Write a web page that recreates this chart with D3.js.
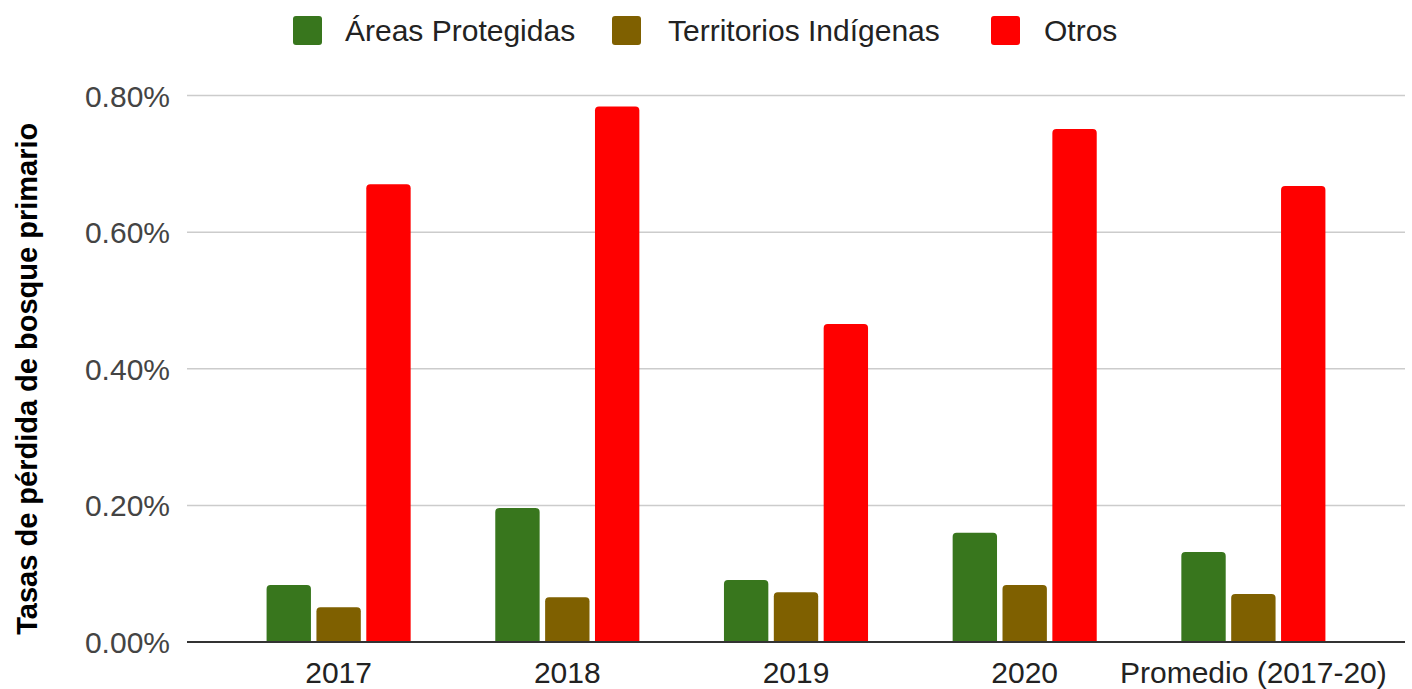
<!DOCTYPE html>
<html>
<head>
<meta charset="utf-8">
<script src="https://cdn.jsdelivr.net/npm/d3@7"></script>
<style>
  body { margin: 0; background: #fff; }
  text { font-family: "Liberation Sans", Arial, sans-serif; }
</style>
</head>
<body>
<div id="chart"></div>
<script>
// data (rates as fractions)
const categories = ["2017", "2018", "2019", "2020", "Promedio (2017-20)"];
const seriesNames = ["Áreas Protegidas", "Territorios Indígenas", "Otros"];
const areasProtegidas = [0.000834, 0.00196, 0.000908, 0.00160, 0.001319];
const territoriosIndigenas = [0.000508, 0.000654, 0.000727, 0.000834, 0.000701];
const otros = [0.00670, 0.00784, 0.004655, 0.00751, 0.006677];
const yTicks = [0, 0.002, 0.004, 0.006, 0.008];
const colors = ["#38761d", "#7f6000", "#ff0000"];

const width = 1412, height = 689;
const plot = {left: 187, right: 1405, top: 95.5, bottom: 642};

const svg = d3.select("#chart").append("svg")
    .attr("width", width)
    .attr("height", height);

const seriesValues = [areasProtegidas, territoriosIndigenas, otros];
const rows = categories.map((c, i) => ({
    cat: c,
    vals: seriesNames.map((s, j) => ({series: s, idx: j, value: seriesValues[j][i]}))
}));

const x0 = d3.scaleBand()
    .domain(categories)
    .range([plot.left, plot.right])
    .paddingInner(0.37)
    .paddingOuter(0.348);

const x1 = d3.scaleBand()
    .domain(seriesNames)
    .range([0, x0.bandwidth()])
    .paddingInner(0.11)
    .paddingOuter(0);

const y = d3.scaleLinear()
    .domain([0, 0.008])
    .range([plot.bottom, plot.top]);

// gridlines
svg.append("g")
    .selectAll("line")
    .data(yTicks.filter(d => d > 0))
    .join("line")
        .attr("x1", plot.left)
        .attr("x2", plot.right)
        .attr("y1", d => y(d))
        .attr("y2", d => y(d))
        .attr("stroke", "#cccccc")
        .attr("stroke-width", 1.5);

// y axis labels
const yAxis = d3.axisLeft(y).tickValues(yTicks).tickFormat(d3.format(".2%")).tickSize(0).tickPadding(17);
svg.append("g")
    .attr("transform", `translate(${plot.left}, 0)`)
    .call(yAxis)
    .call(g => g.select(".domain").remove())
    .call(g => g.selectAll("text")
        .attr("fill", "#444")
        .style("font-size", "30px")
        .attr("dy", "0.35em"));

// y title
svg.append("text")
    .attr("transform", `translate(37, ${(plot.top + plot.bottom) / 2 + 10}) rotate(-90)`)
    .attr("text-anchor", "middle")
    .style("font", "bold 29px 'Liberation Sans', Arial, sans-serif")
    .attr("fill", "#000")
    .text("Tasas de pérdida de bosque primario");

// bars with rounded tops
function barPath(x, yTop, w, yBase, r) {
    const rr = Math.min(r, (yBase - yTop) / 2, w / 2);
    return `M${x},${yBase}V${yTop + rr}Q${x},${yTop} ${x + rr},${yTop}H${x + w - rr}Q${x + w},${yTop} ${x + w},${yTop + rr}V${yBase}Z`;
}

svg.append("g")
    .selectAll("g")
    .data(rows)
    .join("g")
        .attr("transform", d => `translate(${x0(d.cat)}, 0)`)
    .selectAll("path")
    .data(d => d.vals)
    .join("path")
        .attr("d", d => barPath(x1(d.series), y(d.value), x1.bandwidth(), y(0), 4))
        .attr("fill", d => colors[d.idx]);

// x axis
svg.append("line")
    .attr("x1", plot.left)
    .attr("x2", plot.right)
    .attr("y1", y(0))
    .attr("y2", y(0))
    .attr("stroke", "#333")
    .attr("stroke-width", 2);

svg.append("g")
    .selectAll("text")
    .data(categories)
    .join("text")
        .attr("x", d => x0(d) + x0.bandwidth() / 2)
        .attr("y", 683)
        .attr("text-anchor", "middle")
        .attr("fill", "#222")
        .style("font-size", "30px")
        .text(d => d);

// legend
const legendItems = [
    {name: seriesNames[0], box: 293, text: 345},
    {name: seriesNames[1], box: 612, text: 668},
    {name: seriesNames[2], box: 991, text: 1044}
];
const legend = svg.append("g");
legend.selectAll("rect")
    .data(legendItems)
    .join("rect")
        .attr("x", d => d.box)
        .attr("y", 16)
        .attr("width", 29)
        .attr("height", 29)
        .attr("rx", 3)
        .attr("fill", (d, i) => colors[i]);
legend.selectAll("text")
    .data(legendItems)
    .join("text")
        .attr("x", d => d.text)
        .attr("y", 41)
        .attr("fill", "#222")
        .style("font-size", "30px")
        .text(d => d.name);
</script>
</body>
</html>
